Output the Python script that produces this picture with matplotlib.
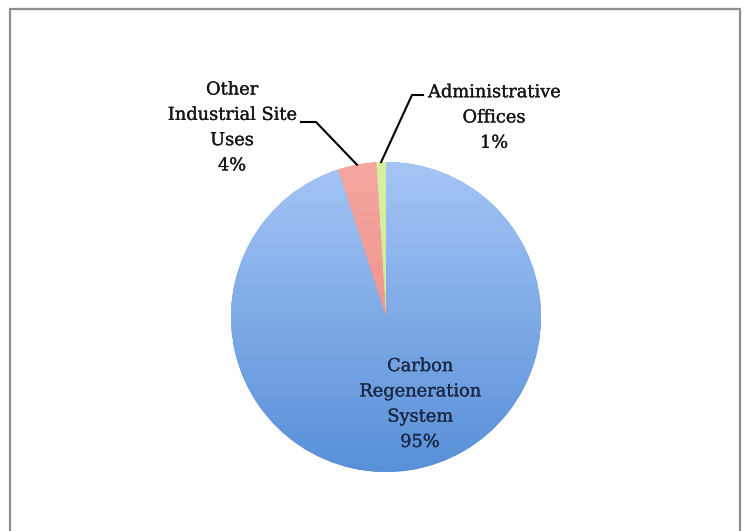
"""Energy use by site area, drawn as a shaded pie chart."""

import numpy as np
import matplotlib

matplotlib.use("Agg")
import matplotlib.pyplot as plt
import matplotlib.patheffects as pe
from matplotlib.colors import LinearSegmentedColormap
from matplotlib.patches import Rectangle

# slices go counter-clockwise from 12 o'clock
CATEGORIES = ["Administrative\nOffices", "Other\nIndustrial Site\nUses", "Carbon\nRegeneration\nSystem"]
SHARES = [1, 4, 95]
# (top, bottom) shade of each slice
SHADES = [("#d9f0a3", "#c8e48a"), ("#f5a6a0", "#ec8680"), ("#a5c5f5", "#5890d8")]

W, H = 745, 531
CENTER = (386, H - 317)
RADIUS = 155

plt.rcParams["font.family"] = ["DejaVu Serif"]

fig = plt.figure(figsize=(W / 100, H / 100), dpi=100)
ax = fig.add_axes([0, 0, 1, 1])

wedges, _ = ax.pie(
    SHARES,
    startangle=90,
    counterclock=True,
    center=CENTER,
    radius=RADIUS,
    frame=True,
    wedgeprops={"linewidth": 0},
)

# vertical light-to-dark fill, clipped to each wedge
grad = np.linspace(0, 1, 256).reshape(-1, 1)
extent = (CENTER[0] - RADIUS, CENTER[0] + RADIUS, CENTER[1] - RADIUS, CENTER[1] + RADIUS)
for wedge, (top, bottom) in zip(wedges, SHADES):
    cmap = LinearSegmentedColormap.from_list("shade", [bottom, top])
    wedge.set_facecolor(bottom)
    img = ax.imshow(grad, cmap=cmap, extent=extent, origin="lower", aspect="auto",
                    interpolation="bilinear", zorder=wedge.get_zorder() + 0.1)
    img.set_clip_path(wedge)

ax.set_xlim(0, W)
ax.set_ylim(0, H)
ax.set_axis_off()


def edge_point(wedge):
    mid = np.deg2rad((wedge.theta1 + wedge.theta2) / 2)
    return CENTER[0] + RADIUS * np.cos(mid), CENTER[1] + RADIUS * np.sin(mid)


def label(x, y, text, color):
    ax.text(x, y, text, color=color, fontsize=12.8, ha="center", va="center",
            linespacing=1.52, zorder=6,
            path_effects=[pe.withStroke(linewidth=0.2, foreground=color)])


# Administrative Offices: label to the upper right with an elbow leader
ex, ey = edge_point(wedges[0])
ax.plot([ex, 412, 423], [ey, H - 95, H - 95], color="black", lw=1.5, zorder=5)
label(494, H - 117.5, f"{CATEGORIES[0]}\n{SHARES[0]}%", "#151515")

# Other Industrial Site Uses: label to the upper left
ex, ey = edge_point(wedges[1])
ax.plot([ex, 316, 301], [ey, H - 122, H - 122], color="black", lw=1.5, zorder=5)
label(232, H - 127.5, f"{CATEGORIES[1]}\n{SHARES[1]}%", "#151515")

# Carbon Regeneration System: label inside the slice
label(420, H - 404, f"{CATEGORIES[2]}\n{SHARES[2]}%", "#1b2846")

# chart frame
fig.patches.append(Rectangle((9.5 / W, -0.1), 730.5 / W, 1.1 - 8.5 / H,
                             transform=fig.transFigure, fill=False,
                             edgecolor="#8e8e8e", linewidth=1.6))

fig.savefig("out.png", dpi=100)
